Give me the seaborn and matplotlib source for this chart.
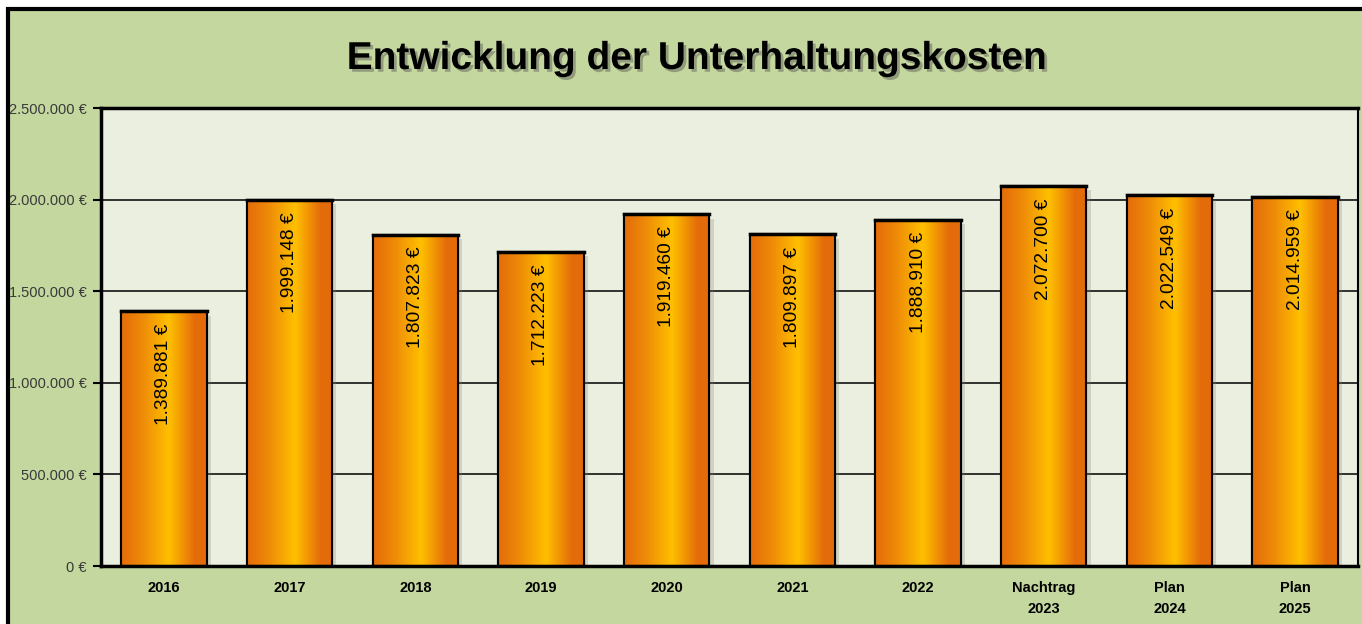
import numpy as np
import pandas as pd
import matplotlib
matplotlib.use("Agg")
import matplotlib.pyplot as plt
import matplotlib.patheffects as pe
from matplotlib.colors import LinearSegmentedColormap
from matplotlib.patches import Rectangle
import seaborn as sns

# ---- data ----
categories = ["2016", "2017", "2018", "2019", "2020", "2021", "2022",
              "Nachtrag\n2023", "Plan\n2024", "Plan\n2025"]
values = [1389881, 1999148, 1807823, 1712223, 1919460, 1809897, 1888910,
          2072700, 2022549, 2014959]
y_ticks = [0, 500000, 1000000, 1500000, 2000000, 2500000]
title = "Entwicklung der Unterhaltungskosten"

def eur(v):
    return f"{int(round(v)):,}".replace(",", ".") + " €"

sns.set_style("white")
plt.rcParams["font.family"] = ["Liberation Sans", "DejaVu Sans"]

GREEN = "#C4D79F"
PLOT_BG = "#EBEFE0"

fig = plt.figure(figsize=(13.62, 6.24), dpi=100, facecolor="white")
W, H = 1362, 624
# outer chart frame
frame = Rectangle((8 / W, -0.1), 1.2, 1 - 9 / H + 0.1, transform=fig.transFigure,
                  facecolor=GREEN, edgecolor="black", linewidth=3, zorder=-10)
fig.patches.append(frame)

ax = fig.add_axes([101 / W, 58 / H, (1358 - 101) / W, (566 - 108) / H])
ax.set_zorder(2)
ax.set_facecolor(PLOT_BG)

df = pd.DataFrame({"cat": categories, "val": values})
sns.barplot(data=df, x="cat", y="val", ax=ax, color="#E46C0A", width=0.68,
            edgecolor="black", linewidth=1.5, saturation=1, zorder=2)

cmap = LinearSegmentedColormap.from_list(
    "grad", [(0, "#E46C0A"), (0.25, "#EE8A08"), (0.56, "#FFC000"), (0.86, "#E46C0A"), (1, "#E36B0A")])
grad = np.linspace(0, 1, 256).reshape(1, -1)
bars = list(ax.patches)
for p in bars:
    p.set_path_effects([pe.SimplePatchShadow(offset=(3, -3), shadow_rgbFace="#808070", alpha=0.25), pe.Normal()])
    x0, y0, w, h = p.get_x(), p.get_y(), p.get_width(), p.get_height()
    im = ax.imshow(grad, cmap=cmap, extent=[x0, x0 + w, y0, y0 + h], aspect="auto",
                   zorder=2.5, interpolation="bicubic")
    im.set_clip_path(p)
    ax.add_patch(Rectangle((x0, y0), w, h, fill=False, edgecolor="black", linewidth=1.5, zorder=3))
    ax.plot([x0, x0 + w], [y0 + h, y0 + h], color="black", lw=2.5, zorder=3.1, solid_capstyle="projecting")
    ax.annotate(eur(p.get_height()), xy=(x0 + w / 2, y0 + h), xytext=(0, -12),
                textcoords="offset pixels", rotation=90, ha="center", va="top",
                fontsize=13.8, color="black", zorder=4)

ax.set_xlim(-0.5, len(categories) - 0.5)
ax.set_ylim(0, 2500000)
ax.set_yticks(y_ticks)
ax.set_yticklabels([eur(v) for v in y_ticks], fontsize=10.5, color="#3A3A3A")
ax.set_xticks(range(len(categories)))
ax.set_xticklabels(categories, fontsize=10.5, fontweight="bold", color="black", linespacing=1.6)
ax.set_xticks(np.arange(0.5, len(categories) - 0.5, 1.0), minor=True)
ax.tick_params(axis="x", which="major", length=0, pad=11)
ax.tick_params(axis="x", which="minor", length=5, width=1.2, direction="out", color="black")
ax.tick_params(axis="y", which="major", length=6, width=1.5, direction="out", color="black", pad=4.5, left=True)
ax.set_xlabel("")
ax.set_ylabel("")
ax.set_axisbelow(True)
ax.yaxis.grid(True, color="black", linewidth=1.1)
ax.xaxis.grid(False)
for s in ["left", "bottom", "top"]:
    ax.spines[s].set_visible(True)
    ax.spines[s].set_linewidth(2.5)
    ax.spines[s].set_color("black")
ax.spines["right"].set_visible(True)
ax.spines["right"].set_linewidth(1.5)
ax.spines["right"].set_color("black")

t = fig.text(697 / W, 1 - 59 / H, title, ha="center", va="center", fontsize=28,
             fontweight="bold", color="black")
t.set_path_effects([pe.withSimplePatchShadow(offset=(2, -2), shadow_rgbFace="#555555", alpha=0.45)])

fig.savefig("out.png", dpi=100, facecolor="white")
